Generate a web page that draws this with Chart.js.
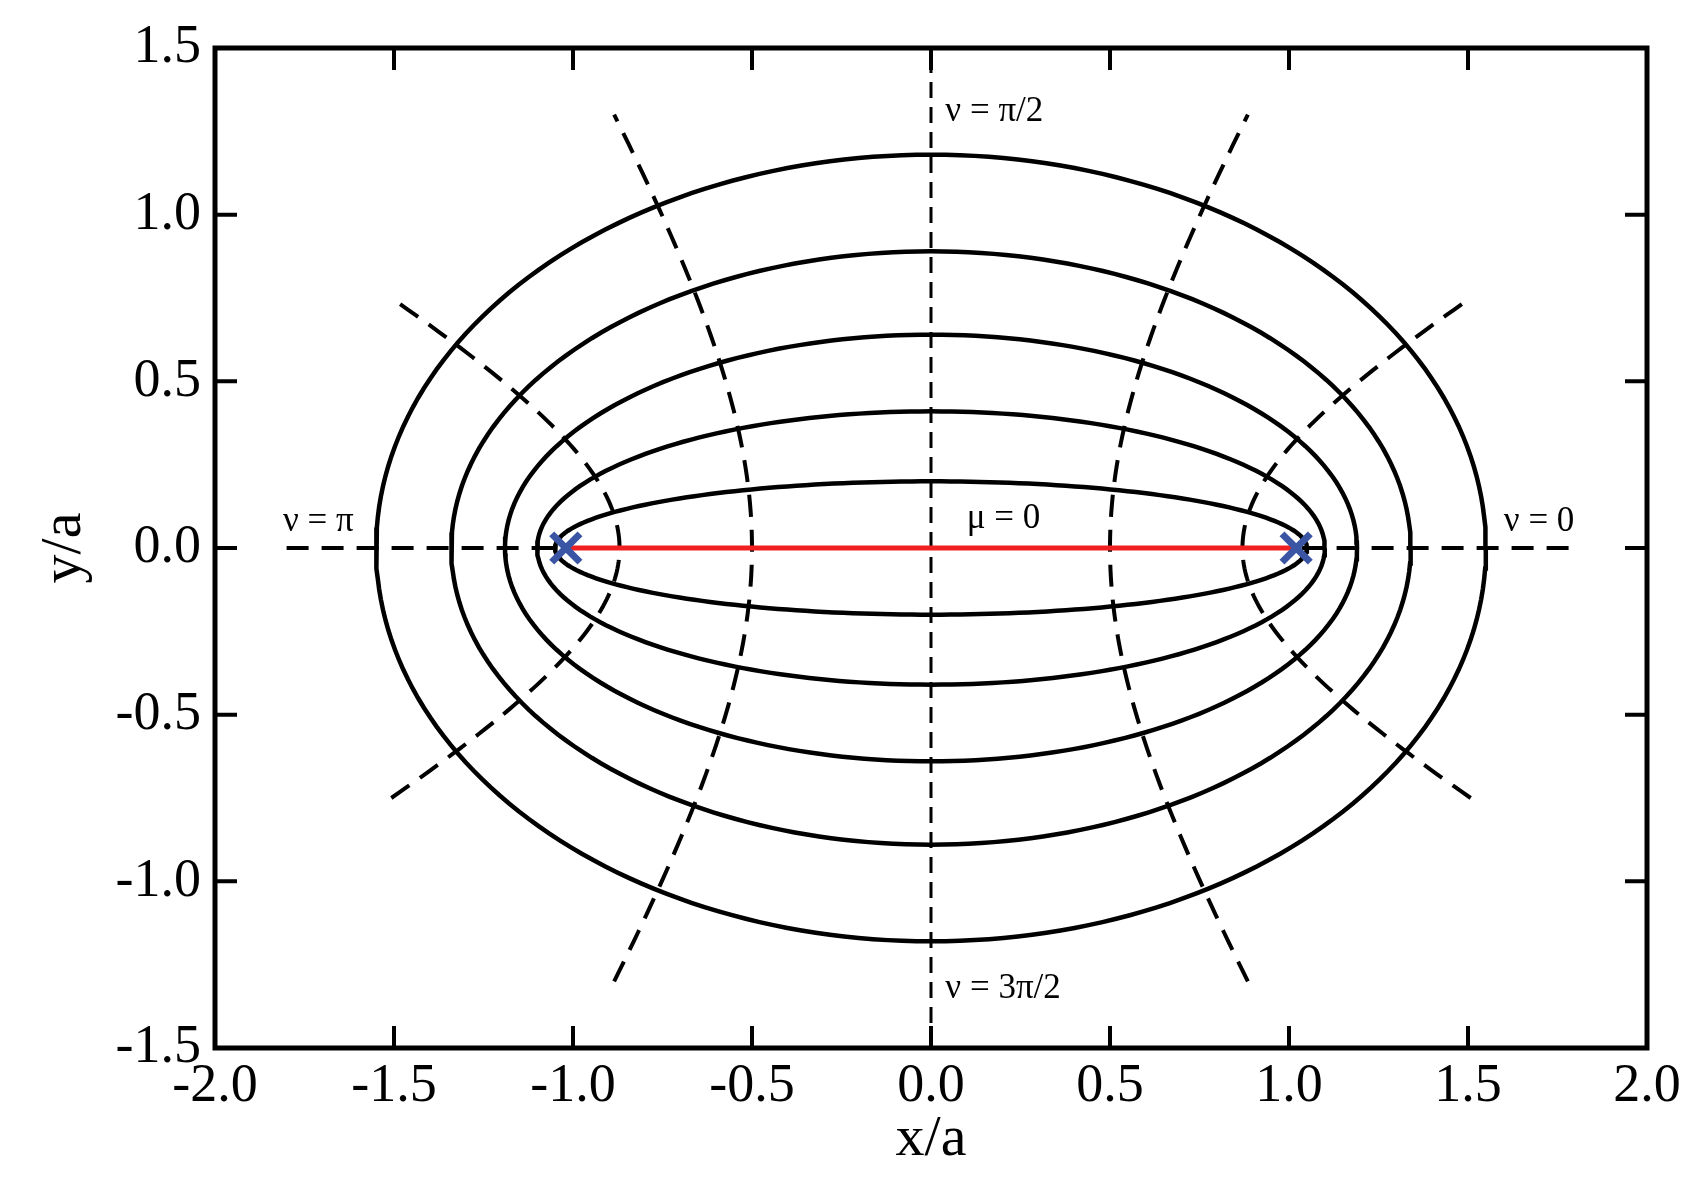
<!DOCTYPE html>
<html>
<head>
<meta charset="utf-8">
<script src="https://cdn.jsdelivr.net/npm/chart.js@4"></script>
<style>body{margin:0;background:#fff}</style>
</head>
<body>
<canvas id="c" width="1700" height="1193"></canvas>
<script>
// values (units of a)
const focus = 1.02;
const ellipseA = [1.05, 1.10, 1.19, 1.34, 1.55];   // semi-major axes of mu = const
const ellipseB = [0.20, 0.41, 0.64, 0.89, 1.18];   // semi-minor axes
const hyperA = [0.50, 0.87];                         // vertices of nu = const
const hyperB = [0.89, 0.53];
const hyperYEnd = [1.30, 0.75];
const xTicks = [-2, -1.5, -1, -0.5, 0, 0.5, 1, 1.5, 2];
const yTicks = [-1.5, -1, -0.5, 0, 0.5, 1, 1.5];
const labels = [
    {text: "ν = π/2", x: 0.04, y: 1.28},
    {text: "ν = 3π/2", x: 0.04, y: -1.35},
    {text: "ν = π", x: -1.81, y: 0.05},
    {text: "ν = 0", x: 1.60, y: 0.05},
    {text: "μ = 0", x: 0.10, y: 0.06},
];

const serif = "'Liberation Serif', 'DejaVu Serif', serif";
const datasets = [];

// foci and red focal segment first: chart.js paints the first dataset on top
datasets.push({data: [{x: -focus, y: 0}, {x: focus, y: 0}], showLine: false, pointStyle: 'crossRot',
    pointRadius: 20, pointBorderWidth: 7, pointBorderColor: '#3b55a5', borderColor: '#3b55a5'});
datasets.push({data: [{x: -focus, y: 0}, {x: focus, y: 0}], borderColor: '#f02020', borderWidth: 5, showLine: true, pointRadius: 0});

// solid ellipses
ellipseA.forEach((a, i) => {
    const pts = [];
    for (let k = 0; k <= 240; k++) {
        const t = 2 * Math.PI * k / 240;
        pts.push({x: a * Math.cos(t), y: ellipseB[i] * Math.sin(t)});
    }
    datasets.push({data: pts, borderColor: '#000', borderWidth: 4.5, showLine: true, pointRadius: 0});
});

// dashed hyperbola branches
hyperA.forEach((a, i) => {
    const b = hyperB[i];
    for (const sx of [-1, 1]) {
        const pts = [];
        const tEnd = Math.asinh(hyperYEnd[i] / b);
        for (let k = -60; k <= 60; k++) {
            const t = tEnd * k / 60;
            pts.push({x: sx * a * Math.cosh(t), y: b * Math.sinh(t)});
        }
        datasets.push({data: pts, borderColor: '#000', borderWidth: 4, borderDash: [22, 13], showLine: true, pointRadius: 0});
    }
});

// dashed axes nu = 0, pi and nu = pi/2, 3pi/2
datasets.push({data: [{x: -1.8, y: 0}, {x: 1.8, y: 0}], borderColor: '#000', borderWidth: 4, borderDash: [22, 13], showLine: true, pointRadius: 0});
datasets.push({data: [{x: 0, y: -1.5}, {x: 0, y: 1.5}], borderColor: '#000', borderWidth: 3, borderDash: [16, 9], showLine: true, pointRadius: 0});

const framePlugin = {
    id: 'frame',
    afterDatasetsDraw(chart) {
        const {ctx, chartArea: ca, scales: {x, y}} = chart;
        ctx.save();
        ctx.strokeStyle = '#000';
        ctx.lineWidth = 4;
        const L = 22;
        ctx.beginPath();
        for (const v of xTicks) {
            const px = x.getPixelForValue(v);
            ctx.moveTo(px, ca.bottom); ctx.lineTo(px, ca.bottom - L);
            ctx.moveTo(px, ca.top); ctx.lineTo(px, ca.top + L);
        }
        for (const v of yTicks) {
            const py = y.getPixelForValue(v);
            ctx.moveTo(ca.left, py); ctx.lineTo(ca.left + L, py);
            ctx.moveTo(ca.right, py); ctx.lineTo(ca.right - L, py);
        }
        ctx.stroke();
        ctx.lineWidth = 5;
        ctx.strokeRect(ca.left, ca.top, ca.right - ca.left, ca.bottom - ca.top);
        ctx.fillStyle = '#000';
        ctx.font = `35px ${serif}`;
        ctx.textBaseline = 'alphabetic';
        for (const l of labels) {
            ctx.fillText(l.text, x.getPixelForValue(l.x), y.getPixelForValue(l.y));
        }
        ctx.restore();
    }
};

new Chart(document.getElementById('c'), {
    type: 'scatter',
    data: {datasets},
    options: {
        responsive: false,
        animation: false,
        devicePixelRatio: 1,
        layout: {padding: {top: 48, right: 53, left: 0, bottom: 0}},
        plugins: {legend: {display: false}, tooltip: {enabled: false}},
        scales: {
            x: {
                min: -2, max: 2,
                afterBuildTicks: s => { s.ticks = xTicks.map(v => ({value: v})); },
                afterFit: s => { s.height = 1193 - 1048; },
                grid: {display: false, drawTicks: false},
                border: {display: false},
                ticks: {color: '#000', font: {family: serif, size: 54}, padding: 6, maxRotation: 0,
                    callback: v => v.toFixed(1)},
                title: {display: true, text: 'x/a', color: '#000', font: {family: serif, size: 58}, padding: {top: -8, bottom: 18}}
            },
            y: {
                min: -1.5, max: 1.5,
                afterBuildTicks: s => { s.ticks = yTicks.map(v => ({value: v})); },
                afterFit: s => { s.width = 215; },
                grid: {display: false, drawTicks: false},
                border: {display: false},
                ticks: {color: '#000', font: {family: serif, size: 54}, padding: 14,
                    callback: v => v.toFixed(1)},
                title: {display: true, text: 'y/a', color: '#000', font: {family: serif, size: 58}, padding: {top: 30, bottom: 0}}
            }
        }
    },
    plugins: [framePlugin]
});
</script>
</body>
</html>
